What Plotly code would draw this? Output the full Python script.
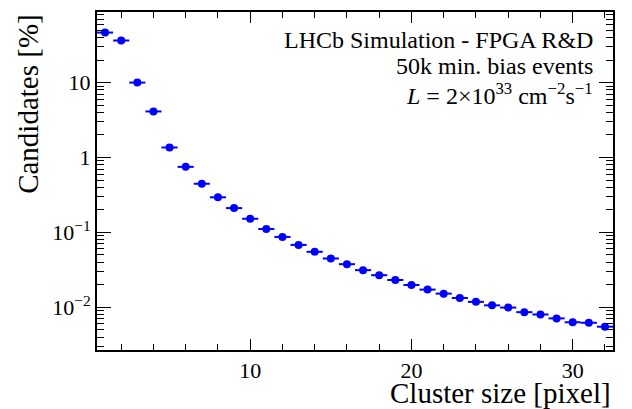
import plotly.graph_objects as go

# cluster size bins and fraction of candidates (%)
cluster_size = list(range(1, 33))
candidates = [46.6, 36.5, 10.0, 4.12, 1.36, 0.75, 0.446, 0.294,
              0.211, 0.152, 0.111, 0.0869, 0.068, 0.055, 0.0448, 0.0376,
              0.0313, 0.0268, 0.0231, 0.0198, 0.0172, 0.0152, 0.0133, 0.0118,
              0.0106, 0.0099, 0.0086, 0.0080, 0.0071, 0.0063, 0.0062, 0.0055]

y_tickvals = [0.01, 0.1, 1, 10]
y_ticktext = ["10<sup>\u22122</sup>", "10<sup>\u22121</sup>", "1", "10"]
x_tickvals = [10, 20, 30]

label_lines = [
    "LHCb Simulation - FPGA R&amp;D",
    "50k min. bias events",
    "<i>L</i> = 2\u00d710<sup>33</sup> cm<sup>\u22122</sup>s<sup>\u22121</sup>",
]

FONT = "Liberation Serif"
BLUE = "#0000ff"

# minor log ticks at 2..9 of every decade
y_minor = [m * 10.0 ** d for d in range(-3, 2) for m in range(2, 10)]

fig = go.Figure()

fig.add_trace(go.Scatter(
    x=cluster_size,
    y=candidates,
    mode="markers",
    marker=dict(color=BLUE, size=8),
    error_x=dict(type="constant", value=0.5, color=BLUE, thickness=2, width=0),
    showlegend=False,
))

axis_common = dict(
    showline=True, linecolor="black", linewidth=2, mirror="ticks",
    ticks="inside", tickcolor="black", showgrid=False, zeroline=False,
    tickfont=dict(family=FONT, size=22, color="black"),
)

fig.update_xaxes(
    range=[0.5, 32.5], tickvals=x_tickvals, ticklen=11, tickwidth=1,
    minor=dict(ticks="inside", dtick=2, tick0=0, ticklen=6, tickcolor="black", tickwidth=1),
    **axis_common,
)
fig.update_yaxes(
    type="log", range=[-2.571, 1.943], tickvals=y_tickvals, ticktext=y_ticktext,
    ticklen=14, tickwidth=1,
    minor=dict(ticks="inside", tickmode="array", tickvals=y_minor, ticklen=7,
               tickcolor="black", tickwidth=1),
    **axis_common,
)

# axis titles, ROOT style (aligned to the end of the axis)
fig.add_annotation(
    text="Candidates [%]", textangle=-90, xref="paper", yref="paper",
    x=-0.134, y=1.0, xanchor="center", yanchor="top", showarrow=False,
    font=dict(family=FONT, size=29, color="black"),
)
fig.add_annotation(
    text="Cluster size [pixel]", xref="paper", yref="paper",
    x=1.0, y=-0.126, xanchor="right", yanchor="middle", showarrow=False,
    font=dict(family=FONT, size=29, color="black"),
)

# label block, one annotation per line
for line, ypos in zip(label_lines, [0.918, 0.84, 0.757]):
    fig.add_annotation(
        text=line, xref="paper", yref="paper", x=0.965, y=ypos,
        xanchor="right", yanchor="middle", showarrow=False,
        font=dict(family=FONT, size=24, color="black"),
    )

# the page body adds an 8px margin, so the figure is 8px smaller than the window
fig.update_layout(
    width=624, height=401,
    margin=dict(l=89, r=19, t=2, b=59),
    paper_bgcolor="white", plot_bgcolor="white",
    font=dict(family=FONT, color="black"),
)

fig.write_html("out.html")
